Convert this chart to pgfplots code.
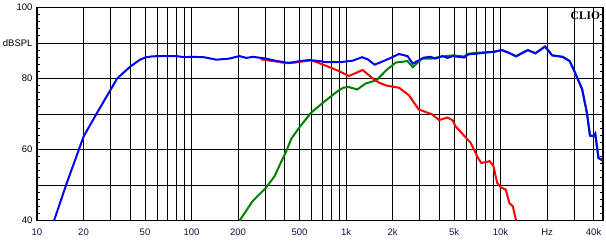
\documentclass[border=0pt]{standalone}
\usepackage{pgfplots}
\pgfplotsset{compat=1.18}
\usepackage{fontspec}
\setmainfont{Liberation Sans}
\newfontfamily\cliofont{Liberation Serif}
\definecolor{lblx}{RGB}{36,8,64}
\definecolor{cblue}{RGB}{0,0,255}
\definecolor{cred}{RGB}{255,0,0}
\definecolor{cgreen}{RGB}{0,128,0}
\begin{document}
\begin{tikzpicture}
\useasboundingbox (-37pt,-24.5pt) rectangle (569pt,220.5pt);
\begin{axis}[
  scale only axis, width=566pt, height=213pt,
  xmode=log, xmin=10, xmax=46000, ymin=40, ymax=100,
  font=\fontsize{9.5}{11}\selectfont,
  /pgf/number format/assume math mode=true,
  xtick={10,20,30,40,50,60,70,80,90,100,200,300,400,500,600,700,800,900,1000,2000,3000,4000,5000,6000,7000,8000,9000,10000,20000,30000,40000},
  xticklabels={10,20,,,50,,,,,100,200,,,500,,,,,1k,2k,,,5k,,,,,10k,Hz,,40k},
  minor xtick={},
  ytick={40,50,60,70,80,90,100},
  yticklabels={40,,60,,80,dBSPL,100},
  minor y tick num=4,
  major tick length=0pt, minor tick length=3pt,
  minor tick style={black, line width=0.8pt},
  grid=major,
  major grid style={black, line width=0.8pt},
  axis line style={black, line width=1.6pt},
  xticklabel style={text=lblx, yshift=-5pt},
  yticklabel style={text=black, xshift=-1pt},
  tick pos=both,
]
\addplot[cgreen, line width=2pt] coordinates {
(205,40) (248,45.4) (303,49.2) (345,52.5) (380,56.5) (410,59.5) (442,63.0) (500,66.3) (592,70.3) (710,73.2) (880,76.4) (960,77.4) (1040,77.6) (1180,76.9) (1340,78.6) (1570,79.5) (1830,82.4) (2100,84.5) (2500,84.9) (2700,83.2) (3100,85.6) (3550,85.6) (4200,86.2) (4900,86.5) (5800,86.2) (6200,87.0) (7000,87.2) (8000,87.4) (9000,87.5) (10200,88.0) (11200,87.3) (12600,86.2) (15000,88.0) (16800,87.1) (19400,89.0) (21600,86.5) (25200,86.1) (28000,84.9) (30000,82.1) (33700,77.0) (36200,70.3) (37900,63.9) (40200,63.8) (41000,64.4) (43000,57.6) (45500,57.0)
};
\addplot[cred, line width=2pt] coordinates {
(280,85.4) (350,84.8) (410,84.3) (470,84.5) (580,85.1) (640,84.7) (700,84.0) (780,83.2) (910,82.0) (1040,80.7) (1150,81.5) (1280,82.4) (1490,80.0) (1640,78.8) (1830,78.0) (2200,77.4) (2550,75.3) (2950,71.3) (3300,70.5) (3600,69.9) (4000,68.3) (4540,69.0) (4900,68.2) (5100,66.6) (5800,63.9) (6400,61.9) (7150,57.6) (7500,56.2) (8500,56.7) (9000,55.3) (9500,50.6) (10000,49.4) (10800,48.7) (11400,44.9) (12000,44.0) (12600,40.0)
};
\addplot[cblue, line width=2pt] coordinates {
(12.9,40) (15.6,50.6) (19.0,60.9) (20,63.6) (24.3,70.1) (30,76.9) (33,80.0) (40,83.3) (46,85.2) (50,85.9) (55,86.2) (60,86.3) (80,86.3) (90,86.0) (100,86.1) (120,86.0) (145,85.3) (176,85.6) (194,86.1) (205,86.3) (226,85.8) (250,86.1) (303,85.6) (350,85.0) (410,84.5) (430,84.4) (470,84.7) (500,84.9) (580,85.2) (670,84.9) (745,84.6) (910,84.6) (1000,84.8) (1100,85.0) (1270,86.0) (1380,85.4) (1530,83.9) (1680,84.6) (1900,85.6) (2200,86.9) (2500,86.3) (2700,84.2) (3200,85.9) (3550,86.1) (3750,85.6) (4200,86.3) (4540,85.8) (4900,86.3) (5800,85.9) (6200,86.8) (7000,87.0) (8000,87.3) (9000,87.5) (10200,88.0) (11200,87.3) (12600,86.3) (15000,88.0) (16800,87.1) (19400,89.0) (21600,86.5) (25200,86.1) (28000,84.9) (30000,82.1) (33700,77.0) (36200,70.3) (37900,63.9) (40200,63.8) (41000,64.4) (43000,57.6) (45500,57.0)
};
\node[anchor=north east, inner sep=1pt, font=\cliofont\bfseries\fontsize{11.5}{13}\selectfont] at (rel axis cs:0.997,0.985) {CLIO};
\end{axis}
\end{tikzpicture}
\end{document}
